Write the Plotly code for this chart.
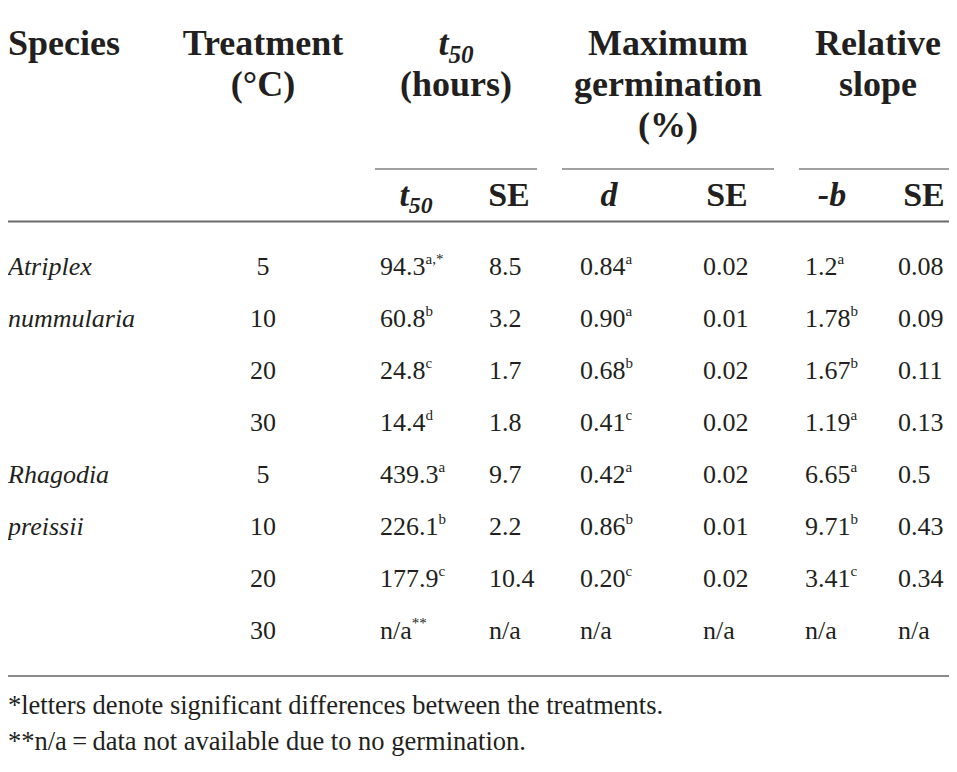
import plotly.graph_objects as go

# table content
species = ["Atriplex nummularia", "Rhagodia preissii"]
treatment = ["5", "10", "20", "30", "5", "10", "20", "30"]
t50 = ["94.3", "60.8", "24.8", "14.4", "439.3", "226.1", "177.9", "n/a"]
t50_sup = ["a,*", "b", "c", "d", "a", "b", "c", "**"]
t50_se = ["8.5", "3.2", "1.7", "1.8", "9.7", "2.2", "10.4", "n/a"]
d_val = ["0.84", "0.90", "0.68", "0.41", "0.42", "0.86", "0.20", "n/a"]
d_sup = ["a", "a", "b", "c", "a", "b", "c", ""]
d_se = ["0.02", "0.01", "0.02", "0.02", "0.02", "0.01", "0.02", "n/a"]
b_val = ["1.2", "1.78", "1.67", "1.19", "6.65", "9.71", "3.41", "n/a"]
b_sup = ["a", "b", "b", "a", "a", "b", "c", ""]
b_se = ["0.08", "0.09", "0.11", "0.13", "0.5", "0.43", "0.34", "n/a"]

headers = [
    ["Species"],
    ["Treatment", "(°C)"],
    ["<i>t</i><sub><i>50</i></sub>", "(hours)"],
    ["Maximum", "germination", "(%)"],
    ["Relative", "slope"],
]
subheaders = ["<i>t</i><sub><i>50</i></sub>", "SE", "<i>d</i>", "SE", "<i>-b</i>", "SE"]
footnotes = [
    "*letters denote significant differences between the treatments.",
    "**n/a\u2009=\u2009data not available due to no germination.",
]

# layout, in the reference's pixel space (page body adds an 8px margin)
W, H = 957, 772
PAD = 8
BOTTOM = 756  # lowest reference pixel row the figure covers
INK = "#231f20"
SERIF = "Liberation Serif"
row_y0, row_dy = 268, 52
head_y0, head_dy = 46, 41
header_x = [0, 263, 456, 668, 878]
sub_x = [416, 509, 609, 727, 832, 924]
sub_y = 197
col_x = [263, 380, 489, 580, 703, 805, 898]
col_pos = ["middle center"] + ["middle right"] * 6

rows_y = [row_y0 + i * row_dy for i in range(len(treatment))]


def with_sup(vals, sups):
    return [v + (f"<sup><span style='font-size:15px'>{s}</span></sup>" if s else "")
            for v, s in zip(vals, sups)]


fig = go.Figure()

# header lines
for hx, lines in zip(header_x, headers):
    fig.add_trace(go.Scatter(
        x=[max(hx, PAD)] * len(lines),
        y=[head_y0 + k * head_dy for k in range(len(lines))],
        text=[f"<b>{t}</b>" for t in lines],
        mode="text",
        textposition="middle right" if hx == 0 else "middle center",
        textfont=dict(family=SERIF, size=36, color=INK),
        hoverinfo="skip", cliponaxis=False,
    ))

fig.add_trace(go.Scatter(
    x=sub_x, y=[sub_y] * len(sub_x),
    text=[f"<b>{t}</b>" for t in subheaders],
    mode="text", textposition="middle center",
    textfont=dict(family=SERIF, size=34, color=INK),
    hoverinfo="skip", cliponaxis=False,
))

# species names, one word per row
sp_text, sp_y = [], []
for i, name in enumerate(species):
    for k, word in enumerate(name.split()):
        sp_text.append(f"<i>{word}</i>")
        sp_y.append(rows_y[i * 4 + k])
fig.add_trace(go.Scatter(
    x=[PAD] * len(sp_text), y=sp_y, text=sp_text,
    mode="text", textposition="middle right",
    textfont=dict(family=SERIF, size=26, color=INK),
    hoverinfo="skip", cliponaxis=False,
))

columns = [
    treatment,
    with_sup(t50, t50_sup),
    t50_se,
    with_sup(d_val, d_sup),
    d_se,
    with_sup(b_val, b_sup),
    b_se,
]
for cx, pos, vals in zip(col_x, col_pos, columns):
    fig.add_trace(go.Scatter(
        x=[cx] * len(vals), y=rows_y, text=vals,
        mode="text", textposition=pos,
        textfont=dict(family=SERIF, size=26, color=INK),
        hoverinfo="skip", cliponaxis=False,
    ))

fig.add_trace(go.Scatter(
    x=[PAD] * len(footnotes), y=[707, 743], text=footnotes,
    mode="text", textposition="middle right",
    textfont=dict(family=SERIF, size=26.5, color=INK),
    hoverinfo="skip", cliponaxis=False,
))

# rules
for x0, x1 in [(375, 537), (562, 774), (799, W)]:
    fig.add_shape(type="line", x0=x0, x1=x1, y0=169, y1=169,
                  line=dict(color="#444444", width=1.2))
fig.add_shape(type="line", x0=PAD, x1=W, y0=221.5, y1=221.5,
              line=dict(color="#6b6b6b", width=2))
fig.add_shape(type="line", x0=PAD, x1=W, y0=676, y1=676,
              line=dict(color="#8c8c8c", width=2))

fig.update_layout(
    width=W - PAD, height=BOTTOM - PAD,
    margin=dict(l=0, r=0, t=0, b=0),
    paper_bgcolor="white", plot_bgcolor="white",
    showlegend=False,
    xaxis=dict(range=[PAD, W], visible=False, fixedrange=True),
    yaxis=dict(range=[BOTTOM, PAD], visible=False, fixedrange=True),
)

fig.write_html("out.html")
